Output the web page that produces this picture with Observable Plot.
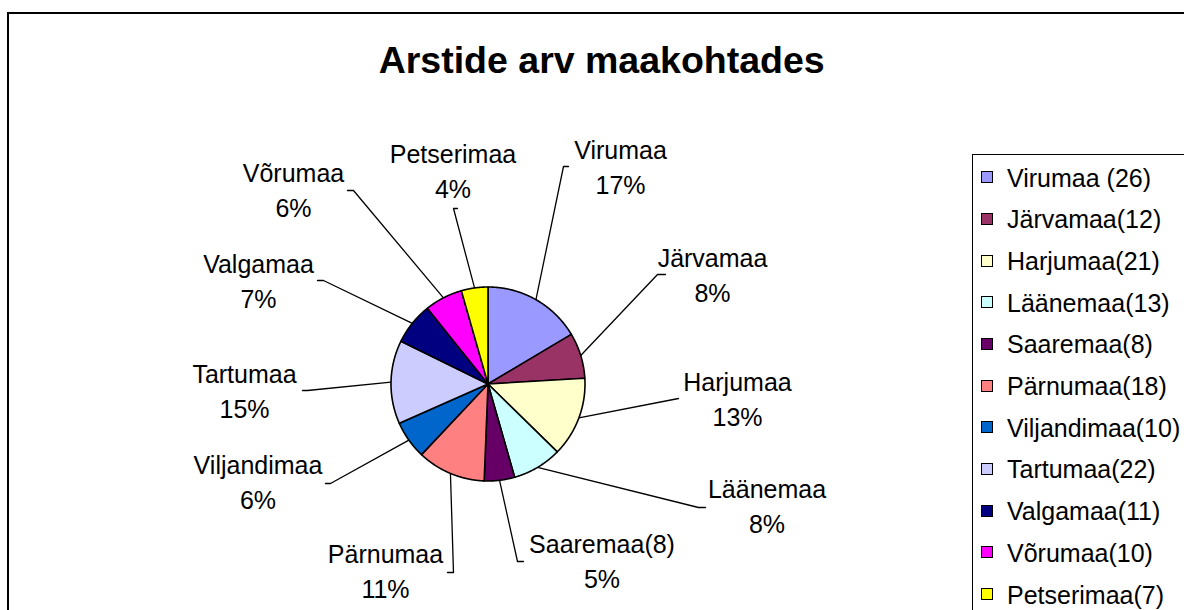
<!DOCTYPE html>
<html><head><meta charset="utf-8">
<script src="https://cdn.jsdelivr.net/npm/d3@7"></script>
<script src="https://cdn.jsdelivr.net/npm/@observablehq/plot@0.6"></script>
<style>
html,body{margin:0;padding:0;background:#fff;}
#wrap{position:relative;width:1184px;height:610px;overflow:hidden;font-family:"Liberation Sans",Arial,sans-serif;color:#000;}
#frame{position:absolute;left:7px;top:12px;width:1200px;height:700px;border:2px solid #000;box-sizing:border-box;}
#title{position:absolute;left:0;width:1203.4px;top:41.6px;text-align:center;font-weight:bold;font-size:37.5px;line-height:37.5px;white-space:pre;}
#chart{position:absolute;left:0;top:0;}
#legend{position:absolute;left:972px;top:154px;width:300px;height:600px;border:1px solid #000;background:#fff;}
.sw{position:absolute;left:8px;width:12px;height:12px;border:1px solid #000;box-sizing:border-box;}
.lt{position:absolute;left:34px;font-size:25px;line-height:25px;white-space:pre;}
</style>
</head><body>
<div id="wrap">
  <div id="frame"></div>
  <div id="title">Arstide arv maakohtades</div>
  <div id="chart"></div>
  <div id="legend"></div>
</div>
<script>
// ---- data ----
const regions = ["Virumaa","Järvamaa","Harjumaa","Läänemaa","Saaremaa(8)","Pärnumaa","Viljandimaa","Tartumaa","Valgamaa","Võrumaa","Petserimaa"];
const counts = [26,12,21,13,8,18,10,22,11,10,7];
const pctLabels = ["17%","8%","13%","8%","5%","11%","6%","15%","7%","6%","4%"];
const legendLabels = ["Virumaa (26)","Järvamaa(12)","Harjumaa(21)","Läänemaa(13)","Saaremaa(8)","Pärnumaa(18)","Viljandimaa(10)","Tartumaa(22)","Valgamaa(11)","Võrumaa(10)","Petserimaa(7)"];
const colors = ["#9999FF","#993366","#FFFFCC","#CCFFFF","#660066","#FF8080","#0066CC","#CCCCFF","#000080","#FF00FF","#FFFF00"];

// ---- layout (page pixels) ----
const cx = 487.5, cy = 383.5, R = 97;
const labelX = [620, 712, 737, 766.5, 601.5, 385, 257.5, 244, 258, 293, 452.5];
const labelY = [193, 301, 425, 532, 587.5, 597.5, 508.5, 417, 307, 216, 197];
const elbowX = [563, 657, 678, 698, 517, 453, 330, 307, 323, 353, 453];
const elbowY = [166, 274, 398, 507, 561, 572, 483, 390, 280, 190, 208];
const tickX  = [568, 665, 678, 705, 523, 447, 325, 302, 317, 347, 457];
const tickY  = [166, 274, 398, 507, 561, 572, 483, 390, 280, 190, 208];

const arcs = d3.pie().sort(null).value(d => d)(counts);
const slicePts = [];
const leaderPts = [];
arcs.forEach((a, i) => {
  slicePts.push({x: cx, y: cy, k: i, c: colors[i]});
  const n = Math.max(4, Math.ceil((a.endAngle - a.startAngle) / 0.005));
  for (let j = 0; j <= n; j++) {
    const t = a.startAngle + (a.endAngle - a.startAngle) * j / n;
    slicePts.push({x: cx + R * Math.sin(t), y: cy - R * Math.cos(t), k: i, c: colors[i]});
  }
  slicePts.push({x: cx, y: cy, k: i, c: colors[i]});
  const m = (a.startAngle + a.endAngle) / 2;
  leaderPts.push({x: cx + R * Math.sin(m), y: cy - R * Math.cos(m), k: i});
  leaderPts.push({x: elbowX[i], y: elbowY[i], k: i});
  leaderPts.push({x: tickX[i], y: tickY[i], k: i});
});
const labels = regions.map((r, i) => ({x: labelX[i], y: labelY[i], t: r + "\n" + pctLabels[i]}));

const plot = Plot.plot({
  width: 1184, height: 610,
  margin: 0,
  x: {domain: [0, 1184], range: [0, 1184], axis: null},
  y: {domain: [0, 610], range: [0, 610], axis: null},
  color: {type: "identity"},
  style: {fontFamily: "'Liberation Sans', Arial, sans-serif", background: "transparent", overflow: "visible"},
  marks: [
    Plot.line(leaderPts, {x: "x", y: "y", z: "k", stroke: "#000", strokeWidth: 1.3}),
    Plot.line(slicePts, {x: "x", y: "y", z: "k", fill: "c", stroke: "#000", strokeWidth: 1.6, strokeLinejoin: "round"}),
    Plot.text(labels, {x: "x", y: "y", text: "t", fontSize: 25, lineHeight: 1.4, lineAnchor: "bottom", textAnchor: "middle", fill: "#000"})
  ]
});
document.getElementById("chart").appendChild(plot);

// legend
const lg = document.getElementById("legend");
legendLabels.forEach((l, i) => {
  const sw = document.createElement("div");
  sw.className = "sw";
  sw.style.top = (16.1 + 41.7 * i) + "px";
  sw.style.background = colors[i];
  lg.appendChild(sw);
  const tx = document.createElement("div");
  tx.className = "lt";
  tx.style.top = (10.5 + 41.7 * i) + "px";
  tx.textContent = l;
  lg.appendChild(tx);
});
</script>
</body></html>
